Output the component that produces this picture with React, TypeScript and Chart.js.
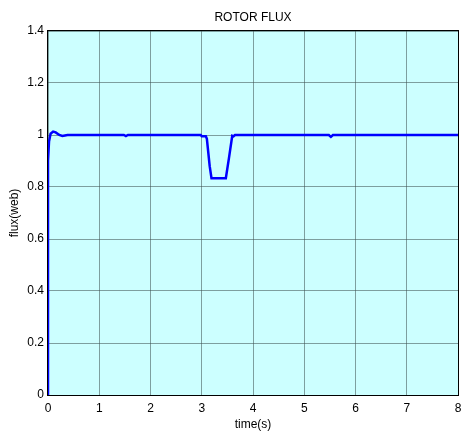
import React, { useEffect, useRef } from "react";
import { Chart, registerables } from "chart.js";

Chart.register(...registerables);

const chartTitle = "ROTOR FLUX";
const xTitle = "time(s)";
const yTitle = "flux(web)";

const timeValues = [0, 0, 0.02, 0.05, 0.1, 0.15, 0.22, 0.28, 0.33, 0.38, 1.48, 1.52, 1.56, 2.98, 3.0, 3.08, 3.1, 3.155, 3.19, 3.47, 3.53, 3.595, 3.62, 3.65, 5.48, 5.52, 5.56, 8.0];
const fluxValues = [0, 0.9, 0.975, 1.005, 1.013, 1.01, 1.0, 0.996, 0.998, 1.0, 1.0, 0.996, 1.0, 1.0, 0.995, 0.995, 0.985, 0.88, 0.834, 0.834, 0.91, 0.997, 0.995, 1.0, 1.0, 0.993, 1.0, 1.0];

const xTickValues = [0, 1, 2, 3, 4, 5, 6, 7, 8];
const yTickLabels = ["0", "0.2", "0.4", "0.6", "0.8", "1", "1.2", "1.4"];

const FONT = "Arial, 'Liberation Sans', sans-serif";

export default function App() {
  const ref = useRef<HTMLCanvasElement>(null);
  useEffect(() => {
    if (!ref.current) return;
    const bgPlugin = {
      id: "bgPlugin",
      beforeDraw(chart: any) {
        const { ctx, chartArea: a } = chart;
        ctx.save();
        ctx.fillStyle = "#ffffff";
        ctx.fillRect(0, 0, chart.width, chart.height);
        ctx.fillStyle = "#ccffff";
        ctx.fillRect(a.left, a.top, a.right - a.left, a.bottom - a.top);
        ctx.restore();
      },
      afterDraw(chart: any) {
        const { ctx, chartArea: a } = chart;
        ctx.save();
        ctx.strokeStyle = "#000000";
        ctx.lineWidth = 1;
        ctx.strokeRect(Math.round(a.left) - 0.5, Math.round(a.top) - 0.5, a.right - a.left + 1, a.bottom - a.top + 1);
        ctx.fillStyle = "#000000";
        ctx.font = "12px " + FONT;
        ctx.textAlign = "center";
        ctx.textBaseline = "middle";
        ctx.fillText(chartTitle, (a.left + a.right) / 2, 18);
        ctx.restore();
      },
    };
    const chart = new Chart(ref.current, {
      type: "line",
      data: {
        datasets: [
          {
            data: timeValues.map((t, i) => ({ x: t, y: fluxValues[i] })),
            borderColor: "#0000ff",
            borderWidth: 2.5,
            pointRadius: 0,
            tension: 0,
            fill: false,
          },
        ],
      },
      options: {
        responsive: false,
        animation: false,
        layout: { padding: { top: 31, right: 0, left: 1, bottom: 0 } },
        plugins: { legend: { display: false }, tooltip: { enabled: false }, title: { display: false } },
        scales: {
          x: {
            type: "linear",
            min: 0,
            max: 8,
            afterFit(scale: any) {
              scale.height = 40;
              scale.paddingRight = 4;
              scale.paddingLeft = 0;
            },
            afterBuildTicks(scale: any) {
              scale.ticks = xTickValues.map((v) => ({ value: v }));
            },
            ticks: { color: "#000", font: { family: FONT, size: 12 }, padding: 6, maxRotation: 0, autoSkip: false },
            grid: { color: "rgba(60,80,80,0.55)", lineWidth: 1, drawTicks: false },
            border: { display: false },
            title: { display: true, text: xTitle, color: "#000", font: { family: FONT, size: 12 }, padding: { top: 0, bottom: 3 } },
          },
          y: {
            type: "linear",
            min: 0,
            max: 1.4,
            afterFit(scale: any) {
              scale.width = 47;
            },
            afterBuildTicks(scale: any) {
              scale.ticks = yTickLabels.map((l) => ({ value: parseFloat(l) }));
            },
            ticks: {
              color: "#000",
              font: { family: FONT, size: 12 },
              padding: 4,
              autoSkip: false,
              callback: (v: any) => {
                const f = yTickLabels.find((l) => Math.abs(parseFloat(l) - Number(v)) < 1e-6);
                return f ?? String(v);
              },
            },
            grid: { color: "rgba(60,80,80,0.55)", lineWidth: 1, drawTicks: false },
            border: { display: false },
            title: { display: true, text: yTitle, color: "#000", font: { family: FONT, size: 12 }, padding: { top: 6, bottom: 0 } },
          },
        },
      },
      plugins: [bgPlugin],
    });
    return () => chart.destroy();
  }, []);
  return (
    <div style={{ position: "fixed", left: 0, top: 0, width: 462, height: 435, background: "#fff" }}>
      <canvas ref={ref} width={462} height={435} style={{ display: "block" }} />
    </div>
  );
}
